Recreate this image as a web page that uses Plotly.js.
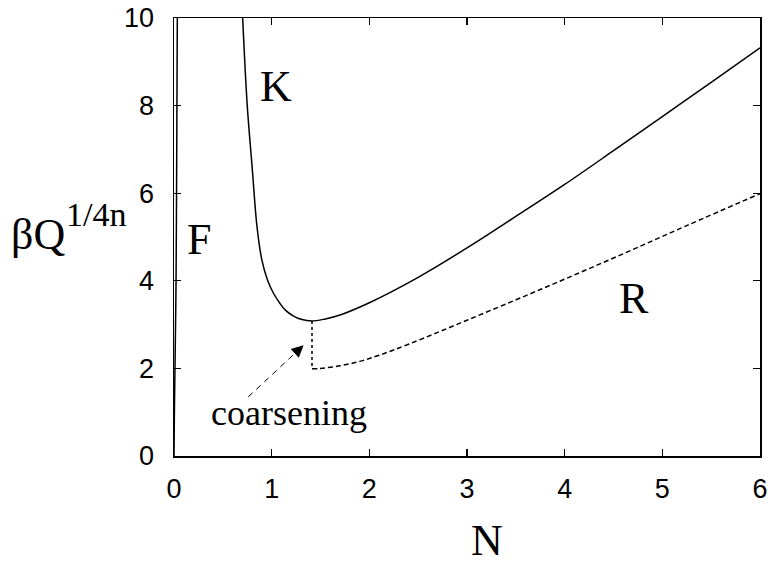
<!DOCTYPE html>
<html>
<head>
<meta charset="utf-8">
<script src="https://cdn.plot.ly/plotly-3.0.1.min.js"></script>
<style>html,body{margin:0;padding:0;background:#fff;}#chart{width:773px;height:572px;}</style>
</head>
<body>
<div id="chart"></div>
<script>
// F branch (near N = 0)
const fN = [0, 0.004, 0.010, 0.016, 0.021, 0.026, 0.030, 0.034];
const fY = [0, 1, 2, 3, 4, 6, 8, 10];
// K branch (solid)
const kN = [0.703, 0.75, 0.80, 0.85, 0.90, 0.96, 1.02, 1.08, 1.14, 1.22, 1.30, 1.413, 1.55, 1.70, 2.0, 2.5, 3.0, 3.5, 4.0, 4.5, 5.0, 5.5, 6.0];
const kY = [10, 8.0, 6.6, 5.23, 4.47, 4.0, 3.71, 3.5, 3.33, 3.20, 3.12, 3.08, 3.13, 3.22, 3.50, 4.08, 4.75, 5.47, 6.20, 6.97, 7.75, 8.53, 9.32];
// R branch (dashed)
const rN = [1.413, 1.5, 1.7, 1.9, 2.1, 2.4, 3.0, 3.75, 4.5, 5.25, 6.0];
const rY = [1.99, 2.0, 2.06, 2.16, 2.30, 2.55, 3.10, 3.80, 4.52, 5.26, 5.99];
// coarsening jump (dotted)
const jumpN = [1.413, 1.413];
const jumpY = [3.08, 1.99];
// coarsening arrow: tail -> head
const arrowN = [0.76, 1.327];
const arrowY = [1.35, 2.53];
// region labels
const labelText = ["K", "F", "R"];
const labelN = [1.04, 0.26, 4.71];
const labelY = [8.44, 4.95, 3.6];
const xTicks = [0, 1, 2, 3, 4, 5, 6];
const yTicks = [0, 2, 4, 6, 8, 10];

const lineStyle = {color: '#000', width: 1.5};
const traces = [
  {x: fN, y: fY, mode: 'lines', line: Object.assign({}, lineStyle, {shape: 'spline'}), hoverinfo: 'none'},
  {x: kN, y: kY, mode: 'lines', line: Object.assign({}, lineStyle, {shape: 'spline', smoothing: 1}), hoverinfo: 'none'},
  {x: rN, y: rY, mode: 'lines', line: {color: '#000', width: 1.5, dash: '5px,3px', shape: 'spline'}, hoverinfo: 'none'},
  {x: jumpN, y: jumpY, mode: 'lines', line: {color: '#000', width: 1.5, dash: 'dot'}, hoverinfo: 'none'},
  {x: arrowN, y: arrowY, mode: 'lines', line: {color: '#000', width: 1, dash: '6px,5px'}, hoverinfo: 'none'}
];

const serif = 'Liberation Serif, Times New Roman, serif';
const annotations = labelText.map((t, i) => ({
  x: labelN[i], y: labelY[i], xref: 'x', yref: 'y', text: t, showarrow: false,
  font: {family: serif, size: 44, color: '#000'}
}));
annotations.push({
  x: 1.18, y: 0.98, xref: 'x', yref: 'y', text: 'coarsening', showarrow: false,
  font: {family: serif, size: 36, color: '#000'}
});
annotations.push({
  x: arrowN[1], y: arrowY[1], xref: 'x', yref: 'y', ax: -10, ay: 9.2,
  showarrow: true, arrowhead: 2, arrowsize: 1.6, arrowwidth: 1.5, arrowcolor: '#000', text: ''
});
annotations.push({
  x: 0.5345, y: -0.194, xref: 'paper', yref: 'paper', xanchor: 'center', yanchor: 'middle', text: 'N', showarrow: false,
  font: {family: serif, size: 44, color: '#000'}
});
annotations.push({
  x: -0.2817, y: 0.5057, xref: 'paper', yref: 'paper', xanchor: 'left', yanchor: 'middle',
  text: 'βQ', showarrow: false,
  font: {family: serif, size: 44, color: '#000'}
});
annotations.push({
  x: -0.1879, y: 0.5525, xref: 'paper', yref: 'paper', xanchor: 'left', yanchor: 'middle',
  text: '1/4n', showarrow: false,
  font: {family: serif, size: 34, color: '#000'}
});

const axisCommon = {
  showgrid: false, zeroline: false, showline: true, linecolor: '#000', linewidth: 1.5,
  mirror: 'ticks', ticks: 'inside', ticklen: 7, tickwidth: 1.2, tickcolor: '#000',
  tickfont: {family: 'Liberation Sans, Arial, sans-serif', size: 27, color: '#000'}
};
const layout = {
  width: 773, height: 572,
  margin: {l: 173.5, r: 13, t: 18, b: 116},
  paper_bgcolor: '#fff', plot_bgcolor: '#fff',
  showlegend: false,
  xaxis: Object.assign({}, axisCommon, {range: [0, 6], tickvals: xTicks, ticklabelstandoff: 8}),
  yaxis: Object.assign({}, axisCommon, {range: [0, 10], tickvals: yTicks, ticklabelstandoff: 13}),
  annotations: annotations
};
Plotly.newPlot('chart', traces, layout, {staticPlot: true});
</script>
</body>
</html>
